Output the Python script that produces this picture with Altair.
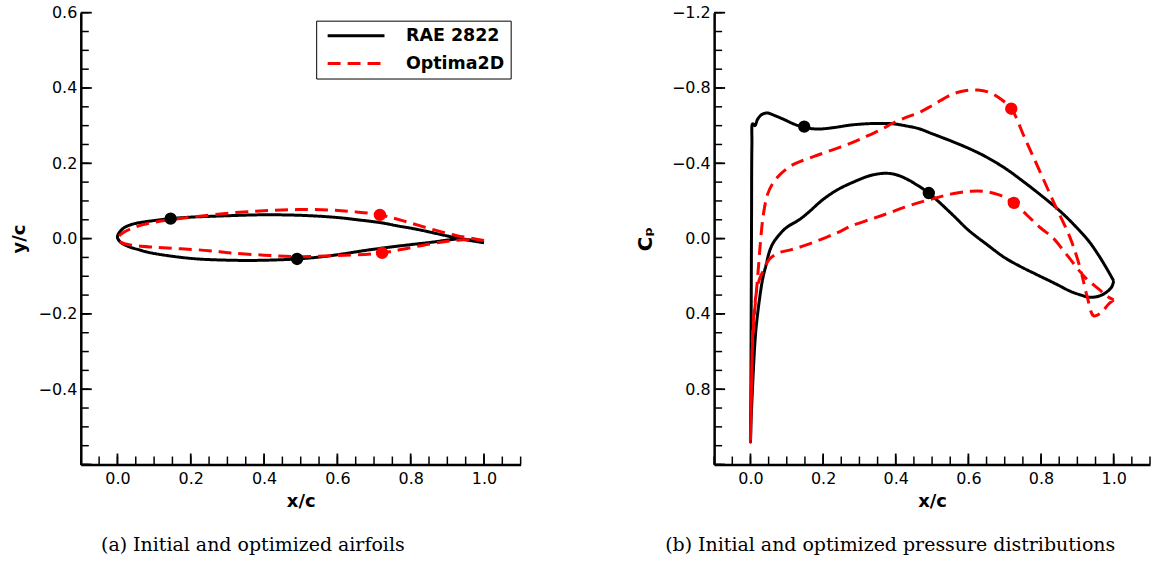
import altair as alt
import pandas as pd

SERIES = ["RAE 2822", "Optima2D"]
COLORS = ["#000000", "#ff0000"]
DASHES = [[1, 0], [13, 7]]

# ---------------- (a) airfoil geometry ----------------
rae_up_x = [0.0, 0.003, 0.01, 0.02, 0.04, 0.064, 0.1, 0.145, 0.2, 0.25, 0.309, 0.38, 0.45, 0.52, 0.6, 0.672, 0.72, 0.763, 0.81, 0.854, 0.9, 0.95, 1.0]
rae_up_y = [0.003, 0.013, 0.022, 0.030, 0.038, 0.043, 0.048, 0.053, 0.057, 0.059, 0.061, 0.063, 0.063, 0.061, 0.056, 0.048, 0.042, 0.034, 0.026, 0.017, 0.007, -0.003, -0.011]
rae_lo_x = [0.0, 0.009, 0.03, 0.06, 0.082, 0.15, 0.218, 0.29, 0.354, 0.42, 0.49, 0.56, 0.62, 0.672, 0.74, 0.8, 0.854, 0.9, 0.93, 0.96, 1.0]
rae_lo_y = [0.003, -0.010, -0.021, -0.030, -0.036, -0.047, -0.054, -0.057, -0.058, -0.057, -0.054, -0.048, -0.040, -0.032, -0.023, -0.016, -0.010, -0.004, -0.001, -0.003, -0.011]

opt_up_x = [0.0, 0.01, 0.036, 0.07, 0.127, 0.2, 0.309, 0.4, 0.49, 0.58, 0.65, 0.716, 0.78, 0.854, 0.926, 1.0]
opt_up_y = [0.0, 0.012, 0.026, 0.037, 0.048, 0.057, 0.068, 0.074, 0.077, 0.076, 0.071, 0.063, 0.047, 0.026, 0.008, -0.005]
opt_lo_x = [0.0, 0.01, 0.036, 0.1, 0.173, 0.25, 0.309, 0.4, 0.49, 0.6, 0.722, 0.8, 0.854, 0.9, 0.945, 1.0]
opt_lo_y = [0.0, -0.010, -0.017, -0.023, -0.027, -0.032, -0.038, -0.044, -0.048, -0.045, -0.038, -0.024, -0.014, -0.007, -0.003, -0.005]

geo_dot_x = [0.145, 0.49, 0.716, 0.722]
geo_dot_y = [0.053, -0.054, 0.063, -0.038]
geo_dot_s = ["RAE 2822", "RAE 2822", "Optima2D", "Optima2D"]

# ---------------- (b) pressure distributions ----------------
rae_cpu_x = [0.0, 0.001, 0.002, 0.003, 0.004, 0.006, 0.012, 0.02, 0.032, 0.047, 0.065, 0.093, 0.12, 0.148, 0.184, 0.23, 0.275, 0.32, 0.36, 0.393, 0.43, 0.462, 0.503, 0.55, 0.6, 0.644, 0.7, 0.75, 0.8, 0.85, 0.89, 0.93, 0.954, 0.975, 0.99, 1.0]
rae_cpu = [1.08, 0.85, 0.4, -0.1, -0.5, -0.61, -0.6, -0.635, -0.66, -0.667, -0.655, -0.632, -0.608, -0.591, -0.582, -0.59, -0.603, -0.61, -0.612, -0.61, -0.598, -0.585, -0.555, -0.52, -0.48, -0.439, -0.375, -0.305, -0.23, -0.15, -0.075, 0.01, 0.075, 0.14, 0.19, 0.225]
rae_cpl_x = [0.0, 0.002, 0.005, 0.008, 0.012, 0.016, 0.025, 0.034, 0.043, 0.052, 0.062, 0.079, 0.1, 0.134, 0.16, 0.198, 0.24, 0.289, 0.33, 0.371, 0.4, 0.421, 0.45, 0.491, 0.516, 0.56, 0.6, 0.65, 0.699, 0.74, 0.79, 0.84, 0.881, 0.91, 0.935, 0.96, 0.98, 0.995, 1.0]
rae_cpl = [1.08, 0.95, 0.82, 0.7, 0.56, 0.465, 0.32, 0.21, 0.14, 0.07, 0.025, -0.02, -0.06, -0.1, -0.14, -0.205, -0.26, -0.305, -0.335, -0.347, -0.34, -0.325, -0.295, -0.242, -0.2, -0.12, -0.045, 0.03, 0.1, 0.145, 0.193, 0.24, 0.28, 0.3, 0.312, 0.305, 0.285, 0.255, 0.225]

opt_cpu_x = [0.0, 0.002, 0.005, 0.009, 0.014, 0.02, 0.027, 0.035, 0.047, 0.062, 0.084, 0.11, 0.138, 0.18, 0.23, 0.28, 0.32, 0.36, 0.393, 0.43, 0.462, 0.503, 0.553, 0.59, 0.626, 0.66, 0.69, 0.719, 0.753, 0.79, 0.835, 0.881, 0.908, 0.926, 0.945, 0.965, 0.985, 1.0]
opt_cpu = [1.08, 0.85, 0.6, 0.45, 0.33, 0.2, 0.03, -0.12, -0.235, -0.295, -0.345, -0.385, -0.41, -0.44, -0.474, -0.51, -0.544, -0.58, -0.614, -0.645, -0.667, -0.71, -0.765, -0.785, -0.789, -0.775, -0.74, -0.688, -0.544, -0.386, -0.193, 0.0, 0.158, 0.3, 0.41, 0.395, 0.35, 0.325]
opt_cpl_x = [0.0, 0.002, 0.004, 0.006, 0.011, 0.016, 0.025, 0.034, 0.052, 0.079, 0.11, 0.152, 0.2, 0.243, 0.275, 0.334, 0.38, 0.425, 0.471, 0.516, 0.56, 0.607, 0.64, 0.68, 0.705, 0.724, 0.75, 0.772, 0.8, 0.835, 0.86, 0.881, 0.905, 0.926, 0.96, 0.985, 1.0]
opt_cpl = [1.08, 0.88, 0.68, 0.5, 0.37, 0.29, 0.215, 0.175, 0.11, 0.075, 0.06, 0.035, 0.0, -0.035, -0.065, -0.105, -0.135, -0.167, -0.195, -0.219, -0.24, -0.252, -0.252, -0.235, -0.215, -0.189, -0.145, -0.105, -0.055, 0.0, 0.06, 0.11, 0.17, 0.215, 0.27, 0.31, 0.325]

cp_dot_x = [0.148, 0.491, 0.718, 0.725]
cp_dot_y = [-0.595, -0.242, -0.69, -0.19]
cp_dot_s = ["RAE 2822", "RAE 2822", "Optima2D", "Optima2D"]

# tick positions
geo_y_major = [-0.6, -0.4, -0.2, 0.0, 0.2, 0.4, 0.6]
geo_y_minor = [round(-0.6 + 0.05 * k, 2) for k in range(25)]
cp_y_major = [-1.2, -0.8, -0.4, 0.0, 0.4, 0.8, 1.2]
cp_y_minor = [round(-1.2 + 0.1 * k, 1) for k in range(25)]
x_major = [0.0, 0.2, 0.4, 0.6, 0.8, 1.0]
x_minor = [round(-0.1 + 0.05 * k, 2) for k in range(25)]

geo_y_labels = [-0.4, -0.2, 0.0, 0.2, 0.4, 0.6]
cp_y_labels = [-1.2, -0.8, -0.4, 0.0, 0.4, 0.8]


def loop(ux, uy, lx, ly, name):
    xs = list(reversed(ux)) + lx[1:]
    ys = list(reversed(uy)) + ly[1:]
    return pd.DataFrame({"x": xs, "y": ys, "i": list(range(len(xs))), "series": name})


geo_df = pd.concat([loop(rae_up_x, rae_up_y, rae_lo_x, rae_lo_y, "RAE 2822"),
                    loop(opt_up_x, opt_up_y, opt_lo_x, opt_lo_y, "Optima2D")])
cp_df = pd.concat([loop(rae_cpu_x, rae_cpu, rae_cpl_x, rae_cpl, "RAE 2822"),
                   loop(opt_cpu_x, opt_cpu, opt_cpl_x, opt_cpl, "Optima2D")])
geo_dots = pd.DataFrame({"x": geo_dot_x, "y": geo_dot_y, "series": geo_dot_s})
cp_dots = pd.DataFrame({"x": cp_dot_x, "y": cp_dot_y, "series": cp_dot_s})

FONT = "DejaVu Sans"
W1, W2, H = 441, 437, 453
MAJ, MIN = 11, 8

color_scale = alt.Scale(domain=SERIES, range=COLORS)
dash_scale = alt.Scale(domain=SERIES, range=DASHES)


def xaxis():
    return alt.Axis(title="x/c", values=x_major, format=".1f", ticks=False, grid=False,
                    domainWidth=2.5, domainColor="black", labelFont=FONT, labelFontSize=16,
                    labelColor="black", labelPadding=6, titleFont=FONT, titleFontSize=18,
                    titleFontWeight="bold", titleColor="black", titlePadding=6)


def yaxis(title, labels, tsize, tpad):
    return alt.Axis(title=title, values=labels, format=".1f", ticks=False, grid=False,
                    domainWidth=2.5, domainColor="black", labelFont=FONT, labelFontSize=16,
                    labelColor="black", labelPadding=4, titleFont=FONT, titleFontSize=tsize,
                    titleFontWeight="bold", titleColor="black", titlePadding=tpad)


def panel(lines_df, dots_df, ydom, yrev, ya, ymaj, ymin, width, legend, caption, cdx):
    xs = alt.Scale(domain=[-0.1, 1.1], nice=False, zero=False)
    ys = alt.Scale(domain=ydom, nice=False, zero=False, reverse=yrev)
    xa = xaxis()
    X = lambda f: alt.X(f, type="quantitative", scale=xs, axis=xa)
    Y = lambda f: alt.Y(f, type="quantitative", scale=ys, axis=ya)

    lines = alt.Chart(lines_df).mark_line(strokeWidth=3, interpolate="catmull-rom",
                                          strokeJoin="round").encode(
        x=X("x"), y=Y("y"), order=alt.Order("i:Q"),
        color=alt.Color("series:N", scale=color_scale, legend=legend),
        strokeDash=alt.StrokeDash("series:N", scale=dash_scale, legend=legend),
    )
    dots = alt.Chart(dots_df).mark_circle(size=154, opacity=1).encode(
        x=X("x"), y=Y("y"),
        color=alt.Color("series:N", scale=color_scale, legend=None),
    )
    ymaj_r = alt.Chart(pd.DataFrame({"v": ymaj})).mark_rule(color="black", strokeWidth=1.8).encode(
        y=Y("v"), x=alt.value(0), x2=alt.value(MAJ))
    ymin_r = alt.Chart(pd.DataFrame({"v": ymin})).mark_rule(color="black", strokeWidth=1.5).encode(
        y=Y("v"), x=alt.value(0), x2=alt.value(MIN))
    xmaj_r = alt.Chart(pd.DataFrame({"v": x_major})).mark_rule(color="black", strokeWidth=1.8).encode(
        x=X("v"), y=alt.value(H), y2=alt.value(H - MAJ))
    xmin_r = alt.Chart(pd.DataFrame({"v": x_minor})).mark_rule(color="black", strokeWidth=1.5).encode(
        x=X("v"), y=alt.value(H), y2=alt.value(H - MIN))
    return alt.layer(ymin_r, ymaj_r, xmin_r, xmaj_r, lines, dots).properties(
        width=width, height=H,
        title=alt.TitleParams(caption, orient="bottom", anchor="middle", font="DejaVu Serif",
                              fontSize=19, fontWeight="normal", color="black", offset=26,
                              dx=cdx),
    )


leg = alt.Legend(title=None, orient="none", legendX=236, legendY=8, symbolType="stroke",
                 symbolSize=3249, symbolStrokeWidth=3, clipHeight=18, rowPadding=10,
                 padding=6, symbolOffset=4, labelOffset=20, labelFont=FONT, labelFontSize=17.5,
                 labelFontWeight="bold", labelColor="black", strokeColor="black",
                 fillColor="white", cornerRadius=0)

left = panel(geo_df, geo_dots, [-0.6, 0.6], False, yaxis("y/c", geo_y_labels, 18, 10),
             geo_y_major, geo_y_minor, W1, leg, "(a) Initial and optimized airfoils", -48)
right = panel(cp_df, cp_dots, [-1.2, 1.2], True, yaxis("Cₚ", cp_y_labels, 20, 16),
              cp_y_major, cp_y_minor, W2, None,
              "(b) Initial and optimized pressure distributions", -42)

chart = alt.hconcat(left, right, spacing=114).resolve_scale(
    color="independent", strokeDash="independent"
).properties(
    padding={"left": 10, "top": 4, "right": 0, "bottom": 0}
).configure_view(stroke=None)

chart.save("out.html", embed_options={"renderer": "svg", "actions": False})
